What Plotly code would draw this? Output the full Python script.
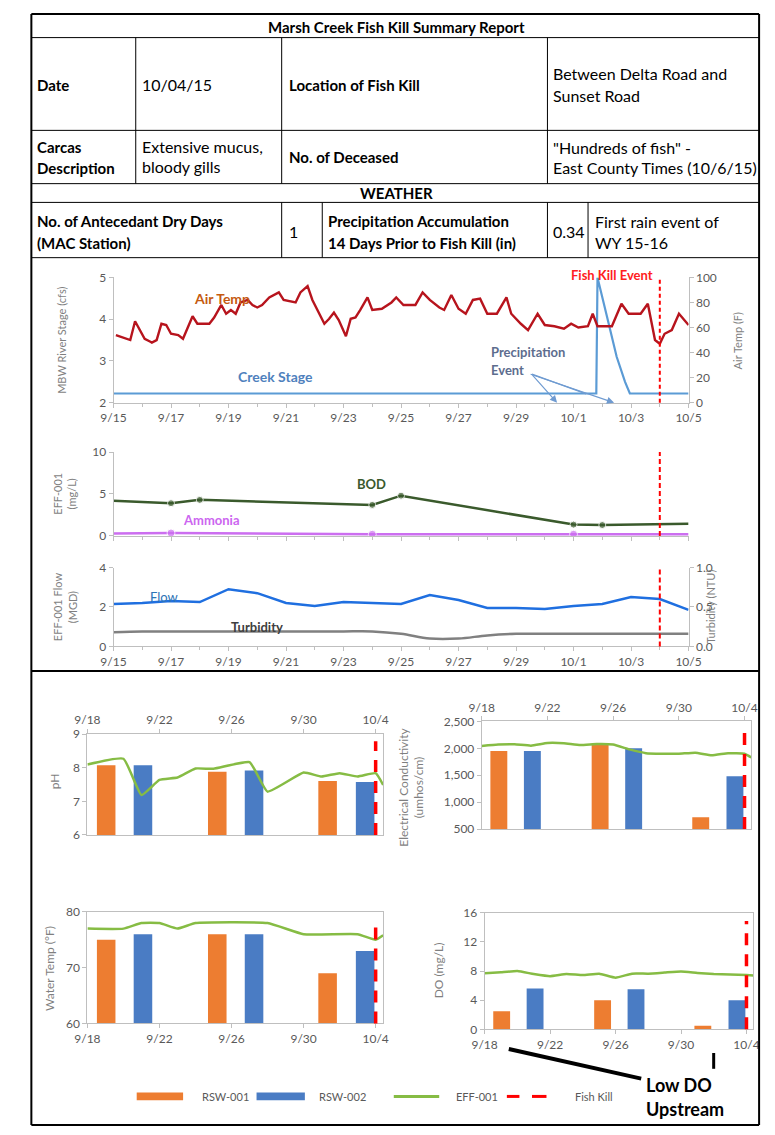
import pandas as pd
import plotly.graph_objects as go

W, H = 775, 1135
DAY = 86400000
FONT = "Lato"
GRAY = "#595959"
AXIS = "#bfbfbf"

# ---------------- DATA ----------------
# Chart 1: Air temperature (F), samples at hours after 2015-09-15 00:00
air_temp_hours = [2, 10, 14, 18, 22, 26, 30, 32, 36, 40, 44, 48, 54, 58, 62, 66, 70, 80, 84, 90,
                  94, 98, 102, 106, 112, 116, 120, 124, 130, 138, 142, 152, 156, 162, 166, 170, 176, 180, 184, 188,
                  194, 198, 202, 206, 212, 216, 224, 232, 236, 242, 252, 258, 264, 272, 276, 282, 288, 294, 300, 306,
                  312, 320, 328, 332, 340, 346, 354, 360, 368, 376, 382, 388, 396, 400, 404, 416, 424, 430, 440, 446,
                  452, 456, 460, 466, 472, 480]
air_temp_f = [54, 51, 50, 65, 58, 51, 49, 48, 50, 63, 62, 55, 54, 51, 60, 69, 63, 63, 68, 78,
              71, 74, 71, 80, 82, 78, 76, 78, 84, 88, 82, 80, 88, 93, 82, 74, 63, 67, 72, 66,
              53, 67, 68, 74, 84, 74, 75, 80, 84, 78, 78, 88, 82, 76, 74, 86, 75, 71, 82, 83,
              71, 71, 84, 71, 63, 58, 71, 62, 61, 59, 63, 60, 61, 71, 61, 61, 79, 71, 71, 79,
              50, 47, 55, 58, 71, 62]
creek_stage_time = ["2015-09-15 00:00", "2015-10-01 19:00", "2015-10-01 20:00", "2015-10-01 22:00",
                    "2015-10-02 04:00", "2015-10-02 12:00", "2015-10-02 19:00", "2015-10-02 23:00",
                    "2015-10-05 00:00"]
creek_stage_cfs = [2.22, 2.22, 5.0, 4.75, 4.05, 3.1, 2.5, 2.22, 2.22]
fish_kill_time = "2015-10-04 00:00"

# Chart 2: EFF-001 BOD & Ammonia (mg/L)
bod_dates = ["2015-09-15", "2015-09-17", "2015-09-18", "2015-09-24", "2015-09-25",
             "2015-10-01", "2015-10-02", "2015-10-05"]
bod_mgl = [4.2, 3.9, 4.3, 3.7, 4.8, 1.35, 1.3, 1.45]
bod_sampled = [0, 1, 1, 1, 1, 1, 1, 0]
ammonia_dates = ["2015-09-15", "2015-09-17", "2015-09-24", "2015-10-01", "2015-10-05"]
ammonia_mgl = [0.3, 0.35, 0.2, 0.2, 0.2]
ammonia_sampled = [0, 1, 1, 1, 0]

# Chart 3: EFF-001 Flow (MGD) & Turbidity (NTU), daily 9/15 - 10/5
daily_dates = ["2015-09-15", "2015-09-16", "2015-09-17", "2015-09-18", "2015-09-19", "2015-09-20",
               "2015-09-21", "2015-09-22", "2015-09-23", "2015-09-24", "2015-09-25", "2015-09-26",
               "2015-09-27", "2015-09-28", "2015-09-29", "2015-09-30", "2015-10-01", "2015-10-02",
               "2015-10-03", "2015-10-04", "2015-10-05"]
flow_mgd = [2.15, 2.2, 2.3, 2.25, 2.9, 2.7, 2.2, 2.05, 2.25, 2.2, 2.15, 2.6, 2.35, 1.95, 1.95,
            1.9, 2.05, 2.15, 2.5, 2.4, 1.85]
turbidity_ntu = [0.18, 0.19, 0.19, 0.19, 0.19, 0.19, 0.19, 0.19, 0.19, 0.19, 0.16, 0.1, 0.1,
                 0.14, 0.16, 0.16, 0.16, 0.16, 0.16, 0.16, 0.16]

# Bottom charts: receiving water samples (RSW-001, RSW-002) and effluent (EFF-001)
rsw001_dates = ["2015-09-19 01:00", "2015-09-25 05:00", "2015-10-01 08:00"]
rsw002_dates = ["2015-09-21 02:00", "2015-09-27 06:00", "2015-10-03 10:00"]

ph_rsw001 = [8.08, 7.88, 7.61]
ph_rsw002 = [8.08, 7.92, 7.58]
ph_eff_dates = ["2015-09-18", "2015-09-20", "2015-09-21", "2015-09-22", "2015-09-23", "2015-09-24",
                "2015-09-25", "2015-09-27", "2015-09-28", "2015-09-30", "2015-10-01", "2015-10-02",
                "2015-10-03", "2015-10-04", "2015-10-04 10:00"]
ph_eff = [8.1, 8.27, 7.19, 7.64, 7.71, 7.98, 7.97, 8.17, 7.29, 7.86, 7.74, 7.84, 7.74, 7.84, 7.49]

ec_rsw001 = [1950, 2070, 720]
ec_rsw002 = [1950, 2000, 1480]
ec_eff_dates = ["2015-09-18", "2015-09-19", "2015-09-20", "2015-09-21", "2015-09-22", "2015-09-23",
                "2015-09-24", "2015-09-25", "2015-09-26", "2015-09-27", "2015-09-28", "2015-09-29",
                "2015-09-30", "2015-10-01", "2015-10-02", "2015-10-03", "2015-10-04", "2015-10-04 10:00"]
ec_eff = [2045, 2070, 2075, 2050, 2100, 2095, 2060, 2080, 2070, 1980, 1910, 1900, 1900, 1920,
          1870, 1910, 1900, 1830]

wt_rsw001 = [75, 76, 69]
wt_rsw002 = [76, 76, 73]
wt_eff_dates = ["2015-09-18", "2015-09-20", "2015-09-21", "2015-09-22", "2015-09-23", "2015-09-24",
                "2015-09-28", "2015-09-30", "2015-10-03", "2015-10-04", "2015-10-04 10:00"]
wt_eff = [77, 77, 78, 78, 77, 78, 78, 76, 76, 75, 75.8]

do_rsw001 = [2.5, 4.0, 0.5]
do_rsw002 = [5.6, 5.5, 4.0]
do_eff_dates = ["2015-09-18", "2015-09-19", "2015-09-20", "2015-09-21", "2015-09-22", "2015-09-23",
                "2015-09-24", "2015-09-25", "2015-09-26", "2015-09-27", "2015-09-28", "2015-09-29",
                "2015-09-30", "2015-10-01", "2015-10-02", "2015-10-03", "2015-10-04", "2015-10-04 10:00"]
do_eff = [7.7, 7.85, 8.0, 7.6, 7.3, 7.6, 7.45, 7.65, 7.1, 7.65, 7.65, 7.8, 7.95, 7.75, 7.6,
          7.55, 7.45, 7.4]

# ---------------- HELPERS ----------------
def X(px):
    return px / W


def Y(py):
    return 1 - py / H


ORANGE = "#ed7d31"
BLUE = "#4a7cc4"
GREEN = "#86bc44"
RED = "#ff0000"

air_temp_time = [pd.Timestamp("2015-09-15") + pd.Timedelta(hours=h) for h in air_temp_hours]

fig = go.Figure()

# Chart 1
fig.add_trace(go.Scatter(x=creek_stage_time, y=creek_stage_cfs, mode="lines",
                         line=dict(color="#5b9bd5", width=2.2), xaxis="x", yaxis="y"))
fig.add_trace(go.Scatter(x=air_temp_time, y=air_temp_f, mode="lines",
                         line=dict(color="#b7141d", width=2.4), xaxis="x", yaxis="y2"))
# Chart 2
fig.add_trace(go.Scatter(x=bod_dates, y=bod_mgl, mode="lines+markers",
                         line=dict(color="#3a5a2c", width=2.5),
                         marker=dict(size=[7 * s for s in bod_sampled], color="#3a5a2c"),
                         xaxis="x2", yaxis="y3"))
fig.add_trace(go.Scatter(x=ammonia_dates, y=ammonia_mgl, mode="lines+markers",
                         line=dict(color="#cc6ef0", width=2.5),
                         marker=dict(size=[8 * s for s in ammonia_sampled], color="#cc6ef0"),
                         xaxis="x2", yaxis="y3"))
# Chart 3
fig.add_trace(go.Scatter(x=daily_dates, y=flow_mgd, mode="lines",
                         line=dict(color="#1f6fe0", width=2.5), xaxis="x3", yaxis="y4"))
fig.add_trace(go.Scatter(x=daily_dates, y=turbidity_ntu, mode="lines",
                         line=dict(color="#808080", width=2.5, shape="spline"),
                         xaxis="x3", yaxis="y5"))

# Bottom charts
panels = [
    ("x4", "y6", ph_rsw001, ph_rsw002, ph_eff_dates, ph_eff),
    ("x5", "y7", ec_rsw001, ec_rsw002, ec_eff_dates, ec_eff),
    ("x6", "y8", wt_rsw001, wt_rsw002, wt_eff_dates, wt_eff),
    ("x7", "y9", do_rsw001, do_rsw002, do_eff_dates, do_eff),
]
for xa, ya, r1, r2, ed, ev in panels:
    fig.add_trace(go.Bar(x=rsw001_dates, y=r1, width=DAY * 1.03, marker=dict(color=ORANGE, line=dict(width=0)),
                         xaxis=xa, yaxis=ya))
    fig.add_trace(go.Bar(x=rsw002_dates, y=r2, width=DAY * 1.03, marker=dict(color=BLUE, line=dict(width=0)),
                         xaxis=xa, yaxis=ya))
    fig.add_trace(go.Scatter(x=ed, y=ev, mode="lines", line=dict(color=GREEN, width=2.5, shape="spline", smoothing=0.4),
                             xaxis=xa, yaxis=ya))


def axstyle(**kw):
    d = dict(showgrid=False, zeroline=False, showline=True, linecolor=AXIS, linewidth=1,
             ticks="outside", tickcolor=AXIS, ticklen=4,
             tickfont=dict(size=12, color=GRAY, family=FONT))
    d.update(kw)
    return d


top_range = ["2015-09-15", "2015-10-05"]
bot_range = ["2015-09-18", "2015-10-04 10:00"]
xdate_top = dict(type="date", range=top_range, tick0="2015-09-15", dtick=2 * DAY, tickformat="%-m/%-d",
                 domain=[X(104), X(699)], minor=dict(dtick=DAY, ticks="outside", ticklen=3, tickcolor=AXIS))
xdate_bot = dict(type="date", range=bot_range, tick0="2015-09-18", dtick=4 * DAY, tickformat="%-m/%-d",
                 mirror=True)

layout = dict(
    width=W, height=H, autosize=False, margin=dict(l=0, r=0, t=0, b=0, pad=0),
    paper_bgcolor="white", plot_bgcolor="rgba(0,0,0,0)", showlegend=False, barmode="overlay",
    font=dict(family=FONT, color=GRAY),
    xaxis=axstyle(**xdate_top, anchor="y"),
    yaxis=axstyle(domain=[Y(400), Y(273)], range=[2, 5], dtick=1, anchor="x"),
    yaxis2=axstyle(overlaying="y", side="right", anchor="x", range=[0, 100], dtick=20),
    xaxis2=axstyle(**xdate_top, anchor="y3", showticklabels=False),
    yaxis3=axstyle(domain=[Y(535), Y(450)], range=[0, 10], dtick=5, anchor="x2"),
    xaxis3=axstyle(**xdate_top, anchor="y4"),
    yaxis4=axstyle(domain=[Y(647), Y(567)], range=[0, 4], dtick=2, anchor="x3"),
    yaxis5=axstyle(overlaying="y4", side="right", anchor="x3", range=[0, 1], dtick=0.5, tickformat=".1f"),
    xaxis4=axstyle(**xdate_bot, domain=[X(77), X(383)], anchor="y6", side="top"),
    yaxis6=axstyle(domain=[Y(838), Y(736)], range=[6, 9], dtick=1, anchor="x4", mirror=True),
    xaxis5=axstyle(**xdate_bot, domain=[X(485), X(764)], anchor="y7", side="top"),
    yaxis7=axstyle(domain=[Y(832), Y(723)], range=[500, 2500], dtick=500, tickformat=",", anchor="x5", mirror=True),
    xaxis6=axstyle(**xdate_bot, domain=[X(77), X(383)], anchor="y8"),
    yaxis8=axstyle(domain=[Y(1029), Y(916)], range=[60, 80], dtick=10, anchor="x6", mirror=True),
    xaxis7=axstyle(**xdate_bot, domain=[X(488), X(766)], anchor="y9"),
    yaxis9=axstyle(domain=[Y(1035), Y(917)], range=[0, 16], dtick=4, anchor="x7", mirror=True),
)
fig.update_layout(**layout)

shapes = []
ann = []


def hline(x0, x1, y, w=1):
    shapes.append(dict(type="line", xref="paper", yref="paper", x0=X(x0), x1=X(x1), y0=Y(y), y1=Y(y),
                       line=dict(color="black", width=w)))


def vline(x, y0, y1, w=1):
    shapes.append(dict(type="line", xref="paper", yref="paper", x0=X(x), x1=X(x), y0=Y(y0), y1=Y(y1),
                       line=dict(color="black", width=w)))


def text(t, x, y, size=16, bold=False, color="black", anchor="left", angle=0, align=None):
    if bold:
        t = "<b>" + t + "</b>"
    ann.append(dict(text=t, x=X(x), y=Y(y), xref="paper", yref="paper", showarrow=False,
                    xanchor=anchor, yanchor="middle", textangle=angle,
                    align=align or ("left" if anchor == "left" else "center"),
                    font=dict(size=size, color=color, family=FONT)))


# Table grid
L, R = 19, 772
hline(L, R, 6, 2)
for yy in [30, 124, 178, 197, 253]:
    hline(L, R, yy, 1)
hline(L, R, 672, 2)
hline(L, R, 1132, 2)
vline(L, 6, 1132, 2)
vline(R, 6, 1132, 2)
for xx in [127, 278, 553]:
    vline(xx, 30, 178)
for xx in [278, 320, 553, 595]:
    vline(xx, 197, 253)

# Table text
text("Marsh Creek Fish Kill Summary Report", 397, 19, 15, True, anchor="center")
text("Date", 23, 78, 15, True)
text("10/04/15", 131, 78)
text("Location of Fish Kill", 283, 78, 15, True)
text("Between Delta Road and", 557, 66)
text("Sunset Road", 557, 89)
text("Carcas", 23, 141, 15, True)
text("Description", 23, 162, 15, True)
text("Extensive mucus,", 131, 140)
text("bloody gills", 131, 161)
text("No. of Deceased", 283, 151, 15, True)
text("\"Hundreds of fish\" -", 557, 141)
text("East County Times (10/6/15)", 557, 162)
text("WEATHER", 397, 187, 15, True, anchor="center")
text("No. of Antecedant Dry Days", 23, 216, 15, True)
text("(MAC Station)", 23, 238, 15, True)
text("1", 283, 227)
text("Precipitation Accumulation", 324, 216, 15, True)
text("14 Days Prior to Fish Kill (in)", 324, 238, 15, True)
text("0.34", 557, 227)
text("First rain event of", 600, 216)
text("WY 15-16", 600, 238)

# Chart labels
text("Air Temp", 216, 294, 14, True, "#c55a11", "center")
text("Creek Stage", 272, 373, 14, True, "#4f81bd", "center")
text("Precipitation", 493, 349, 13, True, "#5d6d8e")
text("Event", 493, 367, 13, True, "#5d6d8e")
text("Fish Kill Event", 664, 271, 13, True, "#ff2020", "right")
text("BOD", 371, 482, 13, True, "#3a5a2c", "center")
text("Ammonia", 205, 519, 13, True, "#cc66f0", "center")
text("Flow", 156, 597, 13, False, "#2e75b6", "center")
text("Turbidity", 252, 627, 13, True, "#404040", "center")

# Axis titles
AT = "#7f7f7f"
text("MBW River Stage (cfs)", 50, 337, 11, False, AT, "center", -90)
text("Air Temp (F)", 750, 337, 11, False, AT, "center", -90)
text("EFF-001<br>(mg/L)", 53, 492, 11, False, AT, "center", -90)
text("EFF-001 Flow<br>(MGD)", 54, 607, 11, False, AT, "center", -90)
text("Turbidity (NTU)", 722, 607, 11, False, AT, "center", -90)
text("pH", 43, 784, 12, False, AT, "center", -90)
text("Electrical Conductivity<br>(umhos/cm)", 412, 790, 12, False, AT, "center", -90)
text("Water Temp (°F)", 37, 973, 12, False, AT, "center", -90)
text("DO (mg/L)", 440, 975, 12, False, AT, "center", -90)

# Precipitation arrows (tail at end of "Event" label)
TAIL = (537, 371)
for tip in [(563, 400), (622, 400)]:
    ann.append(dict(x=X(tip[0]), y=Y(tip[1]), xref="paper", yref="paper",
                    axref="pixel", ayref="pixel", ax=TAIL[0] - tip[0], ay=TAIL[1] - tip[1],
                    text="", showarrow=True, arrowhead=2,
                    arrowsize=1.2, arrowwidth=1.2, arrowcolor="#6f9bd1"))
shapes.append(dict(type="line", xref="paper", yref="paper", x0=X(TAIL[0]), y0=Y(TAIL[1]), x1=X(593), y1=Y(391),
                   line=dict(color="#6f9bd1", width=1.2)))

# Fish kill dashed lines
for xa, ya, w, dash, top in [("x", "y", 2, "4px,3px", 1), ("x2", "y3", 2, "5px,3px", 1),
                             ("x3", "y4", 2, "5px,3px", 1), ("x4", "y6", 3.5, "12px,9px", 0.93),
                             ("x5", "y7", 3.5, "12px,9px", 0.93), ("x6", "y8", 3.5, "12px,9px", 0.93),
                             ("x7", "y9", 3.5, "12px,9px", 0.93)]:
    shapes.append(dict(type="line", xref=xa, yref=ya + " domain", x0=fish_kill_time, x1=fish_kill_time,
                       y0=0, y1=top, line=dict(color=RED, width=w, dash=dash)))

# Legend (manual)
LY = 1103
shapes.append(dict(type="rect", xref="paper", yref="paper", x0=X(128), x1=X(176), y0=Y(LY + 4), y1=Y(LY - 4),
                   fillcolor=ORANGE, line=dict(width=0)))
text("RSW-001", 194, LY, 11, False, GRAY)
shapes.append(dict(type="rect", xref="paper", yref="paper", x0=X(252), x1=X(302), y0=Y(LY + 4), y1=Y(LY - 4),
                   fillcolor=BLUE, line=dict(width=0)))
text("RSW-002", 315, LY, 11, False, GRAY)
shapes.append(dict(type="line", xref="paper", yref="paper", x0=X(394), x1=X(441), y0=Y(LY), y1=Y(LY),
                   line=dict(color=GREEN, width=3)))
text("EFF-001", 456, LY, 11, False, GRAY)
for a, b in [(511, 524), (537, 552)]:
    shapes.append(dict(type="line", xref="paper", yref="paper", x0=X(a), x1=X(b), y0=Y(LY), y1=Y(LY),
                       line=dict(color=RED, width=3)))
text("Fish Kill", 579, LY, 11, False, GRAY)

# Low DO callout
shapes.append(dict(type="line", xref="paper", yref="paper", x0=X(513), y0=Y(1055), x1=X(650), y1=Y(1085),
                   line=dict(color="black", width=4)))
shapes.append(dict(type="line", xref="paper", yref="paper", x0=X(725), y0=Y(1059), x1=X(725), y1=Y(1075),
                   line=dict(color="black", width=3)))
text("Low DO", 653, 1091, 18, True, "black")
text("Upstream", 653, 1116, 18, True, "black")

fig.update_layout(shapes=shapes, annotations=ann)

fig.write_html("out.html",
               config={"responsive": False, "displayModeBar": False},
               post_script="document.body.style.margin='0';")
